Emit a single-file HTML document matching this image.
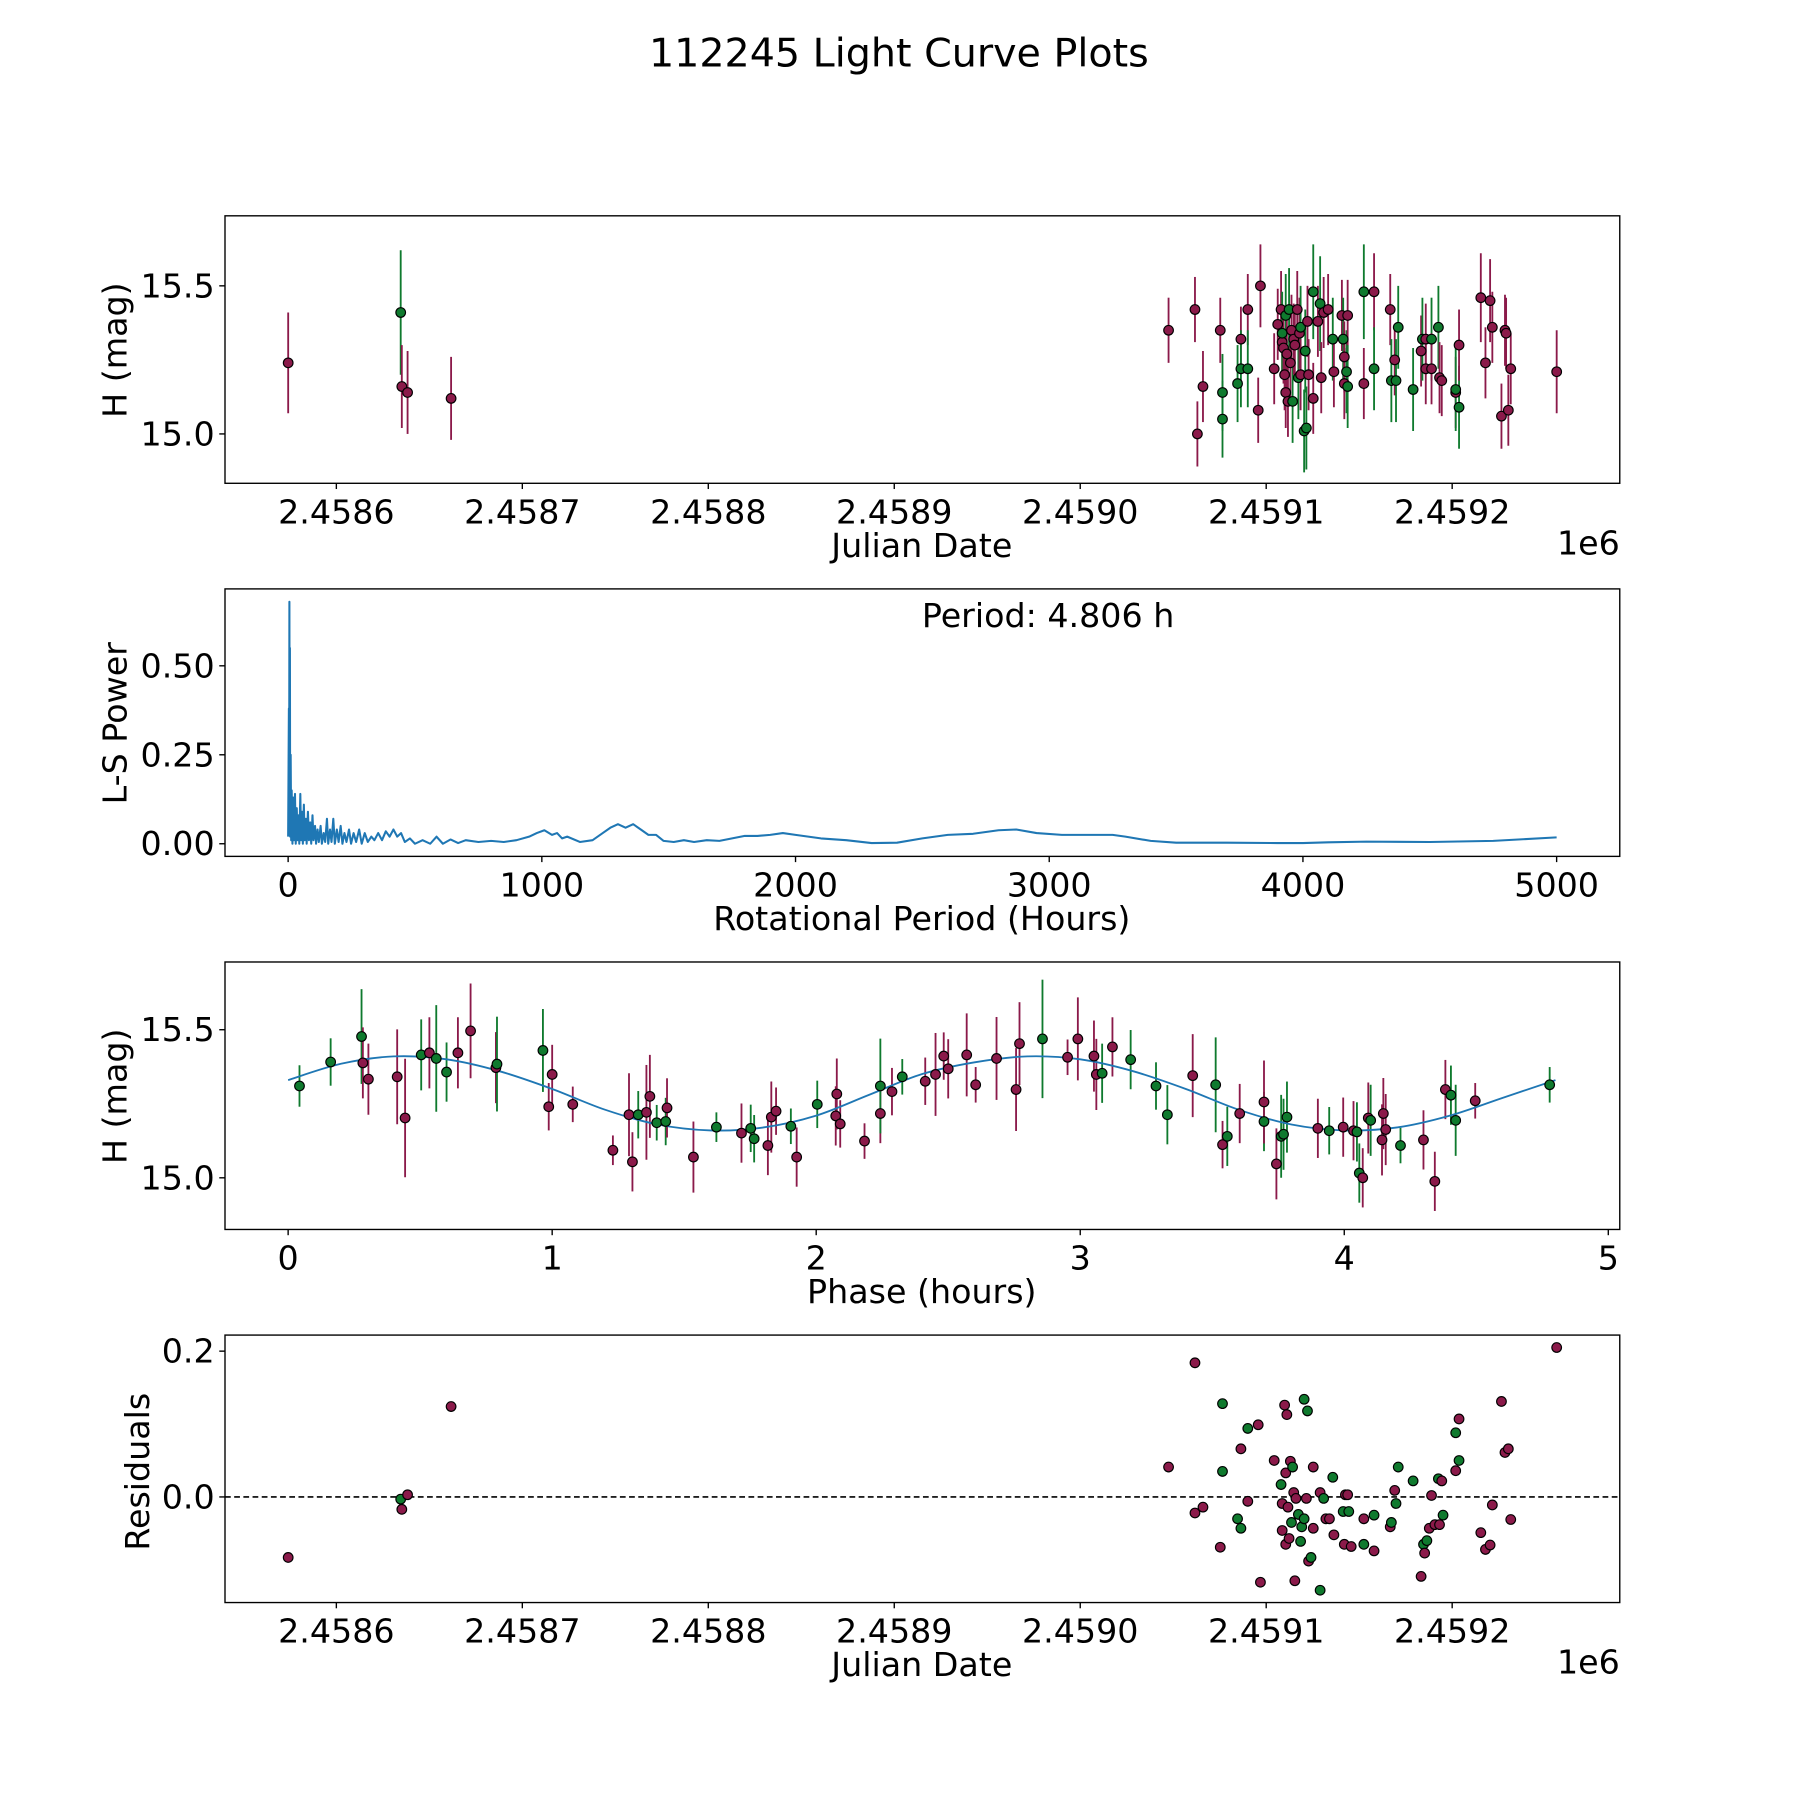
<!DOCTYPE html>
<html><head><meta charset="utf-8"><style>
html,body{margin:0;padding:0;background:#fff;}
svg{display:block;}
text{font-family:"DejaVu Sans","Liberation Sans",sans-serif;fill:#000;}
</style></head><body>
<svg id="fig" xmlns="http://www.w3.org/2000/svg" width="1800" height="1800" viewBox="0 0 1568 1568">
<rect width="1568" height="1568" fill="#fff"/>
<text x="783" y="58" font-size="34.5" text-anchor="middle">112245 Light Curve Plots</text>
<g id="p1"></g>
<g id="p2"></g>
<g id="p3"></g>
<g id="p4"></g>
</svg>
<script>
// ---- Light curve data (days after JD 2458600, H mag, color 0=maroon 1=green) ----
const lcDay=[-25.9,34.6,35.2,38.3,61.7,447.5,461.7,463,466,475.3,476.5,476.5,484.6,486.4,486.4,490.1,490.1,495.7,496.9,504.3,506.2,508,508.6,508.6,509.3,509.9,510.5,510.5,511.1,511.7,512.3,513,513.6,514.2,514.8,515.4,516.7,517.3,517.9,518.5,518.5,520.4,521,521.6,522.2,522.8,525.3,525.3,527.8,529,529.6,530.9,533.3,535.8,536.4,540.7,541.4,542,542,543.2,543.8,543.8,552.5,552.5,558,558,566.7,567.3,569.1,569.8,571,579,583.3,584,585.8,585.8,588.9,588.9,592.6,593.2,594.4,601.9,601.9,603.7,603.7,615.4,617.9,620.4,621.6,626.5,628.4,629,630.2,631.5,656.2];
const lcMag=[15.24,15.41,15.16,15.14,15.12,15.35,15.42,15.00,15.16,15.35,15.14,15.05,15.17,15.32,15.22,15.42,15.22,15.08,15.50,15.22,15.37,15.42,15.31,15.34,15.29,15.20,15.14,15.40,15.27,15.11,15.42,15.24,15.35,15.11,15.32,15.30,15.42,15.19,15.34,15.36,15.20,15.01,15.28,15.02,15.38,15.20,15.48,15.12,15.38,15.44,15.19,15.41,15.42,15.32,15.21,15.40,15.32,15.26,15.17,15.21,15.40,15.16,15.48,15.17,15.48,15.22,15.42,15.18,15.25,15.18,15.36,15.15,15.28,15.32,15.22,15.32,15.32,15.22,15.36,15.19,15.18,15.14,15.15,15.09,15.30,15.46,15.24,15.45,15.36,15.06,15.35,15.34,15.08,15.22,15.21];
const lcCol=[0,1,0,0,0,0,0,0,0,0,1,1,1,0,1,0,1,0,0,0,0,0,0,1,0,0,0,1,0,0,1,0,0,1,0,0,0,1,0,1,0,1,1,1,0,0,1,0,0,1,0,0,0,1,0,0,1,0,0,1,0,1,1,0,0,1,0,1,0,1,1,1,0,1,0,0,1,0,1,0,0,0,1,1,0,0,0,0,0,0,0,0,0,0,0];
const lcErr=[0.17,0.21,0.14,0.14,0.14,0.11,0.11,0.11,0.12,0.11,0.13,0.13,0.13,0.11,0.13,0.12,0.13,0.11,0.14,0.12,0.12,0.13,0.12,0.14,0.12,0.12,0.12,0.14,0.12,0.12,0.14,0.12,0.12,0.14,0.12,0.12,0.13,0.14,0.12,0.14,0.12,0.14,0.14,0.14,0.12,0.12,0.16,0.12,0.12,0.16,0.12,0.12,0.12,0.14,0.12,0.12,0.14,0.12,0.12,0.14,0.12,0.14,0.16,0.12,0.13,0.14,0.12,0.14,0.12,0.14,0.14,0.14,0.12,0.14,0.12,0.12,0.14,0.12,0.14,0.12,0.12,0.12,0.14,0.14,0.12,0.15,0.12,0.14,0.12,0.11,0.12,0.12,0.12,0.12,0.14];
const jdTicks=[0,100,200,300,400,500,600];
const jdTickLabels=["2.4586","2.4587","2.4588","2.4589","2.4590","2.4591","2.4592"];
const magTicks=[15.0,15.5];
const magTickLabels=["15.0","15.5"];

// ---- Periodogram ----
const lsPeriod=[0,3,4,5,6,7,8,10,12,14,17,20,23,27,30,34,37,41,44,48,51,55,58,62,65,70,73,78,82,87,91,96,100,106,110,116,121,128,133,140,146,153,158,165,171,178,184,192,199,207,214,222,230,240,248,258,268,280,290,302,314,328,340,355,370,385,400,415,430,445,460,480,500,530,560,585,610,640,670,700,750,800,850,900,950,980,1010,1040,1060,1080,1100,1150,1200,1240,1270,1300,1330,1360,1390,1420,1450,1480,1520,1560,1600,1650,1700,1750,1800,1850,1900,1950,2000,2050,2100,2200,2300,2400,2500,2600,2700,2800,2870,2950,3050,3150,3250,3300,3400,3500,3700,3900,4000,4100,4250,4500,4750,5000];
const lsPower=[0.02,0.38,0.1,0.68,0.05,0.55,0.02,0.25,0.01,0.15,0.0,0.13,0.01,0.14,0.0,0.1,0.01,0.08,0.0,0.14,0.01,0.09,0.0,0.11,0.01,0.07,0.0,0.09,0.01,0.06,0.0,0.08,0.01,0.05,0.0,0.04,0.005,0.05,0.0,0.03,0.005,0.07,0.0,0.04,0.005,0.07,0.0,0.04,0.005,0.05,0.0,0.03,0.005,0.04,0.0,0.03,0.005,0.04,0.0,0.03,0.005,0.02,0.01,0.03,0.01,0.035,0.02,0.04,0.02,0.03,0.005,0.015,0.0,0.01,0.0,0.02,0.0,0.012,0.002,0.01,0.005,0.008,0.005,0.01,0.02,0.03,0.038,0.025,0.03,0.015,0.02,0.005,0.01,0.03,0.045,0.055,0.045,0.055,0.04,0.025,0.025,0.008,0.005,0.01,0.005,0.01,0.008,0.015,0.022,0.022,0.025,0.03,0.025,0.02,0.015,0.01,0.002,0.003,0.015,0.025,0.028,0.038,0.04,0.03,0.025,0.025,0.025,0.02,0.008,0.003,0.003,0.002,0.002,0.004,0.006,0.005,0.008,0.018];
const perTicks=[0,1000,2000,3000,4000,5000];
const powTicks=[0,0.25,0.5];
const powTickLabels=["0.00","0.25","0.50"];

// ---- Phase curve ----
const phPhase=[0.043,0.161,0.278,0.283,0.304,0.413,0.443,0.504,0.535,0.561,0.6,0.643,0.691,0.787,0.791,0.965,0.987,1.0,1.078,1.23,1.291,1.304,1.326,1.357,1.37,1.396,1.43,1.435,1.535,1.622,1.717,1.752,1.765,1.817,1.83,1.848,1.904,1.926,2.004,2.074,2.078,2.091,2.183,2.243,2.243,2.287,2.326,2.413,2.452,2.483,2.5,2.57,2.604,2.683,2.757,2.77,2.857,2.952,2.991,3.052,3.061,3.083,3.122,3.191,3.287,3.33,3.426,3.513,3.539,3.557,3.604,3.696,3.696,3.743,3.761,3.77,3.783,3.9,3.943,3.996,4.035,4.048,4.057,4.07,4.091,4.1,4.143,4.148,4.157,4.213,4.3,4.343,4.383,4.404,4.422,4.496,4.778];
const phMag=[15.31,15.391,15.477,15.388,15.333,15.341,15.202,15.415,15.422,15.403,15.357,15.422,15.496,15.372,15.384,15.43,15.24,15.349,15.248,15.093,15.213,15.054,15.213,15.221,15.275,15.186,15.19,15.236,15.07,15.171,15.151,15.167,15.132,15.109,15.205,15.225,15.174,15.07,15.248,15.209,15.283,15.182,15.124,15.217,15.31,15.291,15.341,15.326,15.349,15.411,15.368,15.415,15.314,15.403,15.298,15.453,15.469,15.407,15.469,15.411,15.349,15.353,15.442,15.399,15.31,15.213,15.345,15.314,15.112,15.14,15.217,15.19,15.256,15.047,15.14,15.147,15.205,15.167,15.159,15.171,15.159,15.155,15.016,15.0,15.202,15.194,15.128,15.217,15.163,15.109,15.128,14.988,15.298,15.279,15.194,15.26,15.314];
const phCol=[1,1,1,0,0,0,0,1,0,1,1,0,0,0,1,1,0,0,0,0,0,0,1,0,0,1,1,0,0,1,0,1,1,0,0,0,1,0,1,0,0,0,0,0,1,0,1,0,0,0,0,0,0,0,0,0,1,0,0,0,0,1,0,1,1,1,0,1,0,1,0,1,0,0,1,1,1,0,1,0,0,1,1,0,0,1,0,0,0,1,0,0,0,1,1,0,1];
const phErr=[0.07,0.08,0.16,0.12,0.12,0.16,0.2,0.12,0.12,0.18,0.1,0.12,0.16,0.12,0.16,0.14,0.08,0.1,0.06,0.05,0.14,0.1,0.08,0.16,0.14,0.06,0.08,0.1,0.12,0.05,0.1,0.08,0.08,0.1,0.12,0.08,0.06,0.1,0.08,0.1,0.12,0.08,0.06,0.1,0.16,0.08,0.06,0.08,0.14,0.08,0.1,0.14,0.06,0.14,0.14,0.14,0.2,0.06,0.14,0.12,0.12,0.1,0.1,0.1,0.08,0.1,0.14,0.16,0.08,0.1,0.1,0.1,0.14,0.12,0.14,0.12,0.12,0.1,0.08,0.1,0.1,0.1,0.1,0.1,0.12,0.12,0.12,0.12,0.12,0.06,0.1,0.1,0.1,0.1,0.12,0.06,0.06];
const fitPhase=[0,0.2,0.4,0.6,0.8,1.0,1.2,1.4,1.6,1.8,2.0,2.2,2.4,2.6,2.8,3.0,3.2,3.4,3.6,3.8,4.0,4.2,4.4,4.6,4.8];
const fitMag=[15.33,15.385,15.41,15.40,15.36,15.30,15.23,15.18,15.16,15.17,15.21,15.28,15.35,15.39,15.41,15.40,15.36,15.30,15.23,15.18,15.16,15.17,15.21,15.27,15.33];
const phTicks=[0,1,2,3,4,5];

// ---- Residuals ----
const resDay=[-25.9,34.6,35.2,38.3,61.7,447.5,461.7,461.7,466,475.3,476.5,476.5,484.6,486.4,486.4,490.1,490.1,495.7,496.9,504.3,508,508.6,508.6,509.9,510.5,510.5,511.1,511.7,512.3,513,513.6,514.2,514.8,515.4,516,517.3,518.5,519.1,520.4,520.4,521.6,522.2,522.8,524.1,525.3,525.3,529,529,530.9,532.1,534,535.8,536.4,541.4,542,542.6,543.8,544.4,545.7,552.5,552.5,558,558,566.7,567.3,569.1,569.8,571,579,583.3,584.6,585.2,586.4,587.7,588.9,590.7,592.6,593.2,594.4,595.1,601.9,601.9,603.7,603.7,615.4,617.9,620.4,621.6,626.5,628.4,630.2,631.5,656.2];
const resVal=[-0.083,-0.003,-0.017,0.003,0.124,0.041,0.184,-0.022,-0.014,-0.069,0.035,0.128,-0.03,-0.043,0.066,0.094,-0.006,0.099,-0.117,0.05,0.017,-0.046,-0.009,0.126,0.033,-0.065,0.113,-0.014,-0.057,0.049,-0.035,0.041,0.006,-0.115,-0.002,-0.024,-0.061,-0.041,0.134,-0.03,-0.002,0.118,-0.088,-0.083,0.041,-0.043,-0.128,0.006,-0.002,-0.03,-0.03,0.027,-0.052,-0.02,-0.065,0.003,0.003,-0.02,-0.068,-0.065,-0.03,-0.025,-0.074,-0.041,-0.035,0.009,-0.009,0.041,0.022,-0.109,-0.065,-0.077,-0.06,-0.043,0.002,-0.038,0.025,-0.038,0.022,-0.025,0.036,0.088,0.107,0.05,-0.049,-0.072,-0.066,-0.011,0.131,0.061,0.066,-0.031,0.205];
const resCol=[0,1,0,0,0,0,0,0,0,0,1,1,1,1,0,1,0,0,0,0,1,0,0,0,0,0,0,0,0,0,1,1,0,0,0,1,1,1,1,1,0,1,0,1,0,0,1,0,1,0,0,1,0,1,0,0,0,1,0,1,0,1,0,0,1,0,1,1,1,0,1,0,1,0,0,0,1,0,0,1,0,1,0,1,0,0,0,0,0,0,0,0,0];
const resTicks=[0,0.2];
const resTickLabels=["0.0","0.2"];

const NS="http://www.w3.org/2000/svg";
const COLORS=["#8b1a4a","#0f7a2e"];
const TICKFS=29, LABFS=29;
function mk(parent,tag,attrs){const e=document.createElementNS(NS,tag);for(const k in attrs)e.setAttribute(k,attrs[k]);parent.appendChild(e);return e;}
function lin(d0,d1,r0,r1){return v=>r0+(v-d0)*(r1-r0)/(d1-d0);}

function frame(g,L,T,R,B){
  const f=mk(g,'rect',{x:L,y:T,width:R-L,height:B-T,fill:'none',stroke:'#000','stroke-width':1.2});
  
  
}
function xTicks(g,vals,labels,sx,B,name){
  vals.forEach((v,i)=>{
    const x=sx(v);
    const t=mk(g,'line',{x1:x,x2:x,y1:B,y2:B+5,stroke:'#000','stroke-width':1.2});
    
    
    const tx=mk(g,'text',{x:x,y:B+35,'font-size':TICKFS,'text-anchor':'middle'});
    tx.textContent=labels[i];
    
    
  });
}
function yTicks(g,vals,labels,sy,L){
  vals.forEach((v,i)=>{
    const y=sy(v);
    const t=mk(g,'line',{x1:L-5,x2:L,y1:y,y2:y,stroke:'#000','stroke-width':1.2});
    
    
    const tx=mk(g,'text',{x:L-9,y:y+10,'font-size':TICKFS,'text-anchor':'end'});
    tx.textContent=labels[i];
    
    
  });
}
function label(g,txt,x,y,rot,name){
  const t=mk(g,'text',{x:x,y:y,'font-size':LABFS,'text-anchor':'middle'});
  if(rot)t.setAttribute('transform',`rotate(-90 ${x} ${y})`);
  t.textContent=txt;
  
  
}
function dot(g,x,y,c,name){
  const d=mk(g,'circle',{cx:x,cy:y,r:4.2,fill:COLORS[c],stroke:'#000','stroke-width':1});
  
  
}
function err(g,x,y1,y2,c){
  const l=mk(g,'line',{x1:x,x2:x,y1:y1,y2:y2,stroke:COLORS[c],'stroke-width':1.6});
  
  
}
function smoothPath(pts){
  let d=`M${pts[0][0]},${pts[0][1]}`;
  for(let i=0;i<pts.length-1;i++){
    const p0=pts[Math.max(0,i-1)],p1=pts[i],p2=pts[i+1],p3=pts[Math.min(pts.length-1,i+2)];
    const c1=[p1[0]+(p2[0]-p0[0])/6,p1[1]+(p2[1]-p0[1])/6];
    const c2=[p2[0]-(p3[0]-p1[0])/6,p2[1]-(p3[1]-p1[1])/6];
    d+=` C${c1[0]},${c1[1]} ${c2[0]},${c2[1]} ${p2[0]},${p2[1]}`;
  }
  return d;
}

// Panel 1
(function(){
  const g=document.getElementById('p1');const L=196,T=188,R=1411,B=421;
  const sx=lin(0,100,293,455), sy=lin(15.0,15.5,378,249);
  lcDay.forEach((d,i)=>err(g,sx(d),sy(lcMag[i]-lcErr[i]),sy(lcMag[i]+lcErr[i]),lcCol[i]));
  lcDay.forEach((d,i)=>dot(g,sx(d),sy(lcMag[i]),lcCol[i],'light-curve-point'));
  frame(g,L,T,R,B);
  xTicks(g,jdTicks,jdTickLabels,sx,B,'x-tick-label');
  yTicks(g,magTicks,magTickLabels,sy,L);
  label(g,'Julian Date',803,485,false,'x-axis-title');
  label(g,'H (mag)',110,305,true,'y-axis-title');
  const o=mk(g,'text',{x:1411,y:483,'font-size':TICKFS,'text-anchor':'end'});o.textContent='1e6';
  
  
})();

// Panel 2
(function(){
  const g=document.getElementById('p2');const L=196,T=513,R=1411,B=746;
  const sx=lin(0,1000,251,472), sy=lin(0,0.25,735,657.5);
  const d=lsPeriod.map((p,i)=>(i?'L':'M')+sx(p).toFixed(2)+','+sy(lsPower[i]).toFixed(2)).join(' ');
  const p=mk(g,'path',{d:d,fill:'none',stroke:'#1f77b4','stroke-width':1.8,'stroke-linejoin':'round'});
  
  
  frame(g,L,T,R,B);
  xTicks(g,perTicks,perTicks.map(String),sx,B,'x-tick-label');
  yTicks(g,powTicks,powTickLabels,sy,L);
  label(g,'Rotational Period (Hours)',803,810,false,'x-axis-title');
  label(g,'L-S Power',110,630,true,'y-axis-title');
  const t=mk(g,'text',{x:913,y:546,'font-size':LABFS,'text-anchor':'middle'});t.textContent='Period: 4.806 h';
  
  
})();

// Panel 3
(function(){
  const g=document.getElementById('p3');const L=196,T=838,R=1411,B=1071;
  const sx=lin(0,1,251,481), sy=lin(15.0,15.5,1026,897);
  phPhase.forEach((p,i)=>err(g,sx(p),sy(phMag[i]-phErr[i]),sy(phMag[i]+phErr[i]),phCol[i]));
  const fp=mk(g,'path',{d:smoothPath(fitPhase.map((p,i)=>[sx(p),sy(fitMag[i])])),fill:'none',stroke:'#1f77b4','stroke-width':1.6});
  
  
  phPhase.forEach((p,i)=>dot(g,sx(p),sy(phMag[i]),phCol[i],'phase-point'));
  frame(g,L,T,R,B);
  xTicks(g,phTicks,phTicks.map(String),sx,B,'x-tick-label');
  yTicks(g,magTicks,magTickLabels,sy,L);
  label(g,'Phase (hours)',803,1135,false,'x-axis-title');
  label(g,'H (mag)',110,955,true,'y-axis-title');
})();

// Panel 4
(function(){
  const g=document.getElementById('p4');const L=196,T=1163,R=1411,B=1396;
  const sx=lin(0,100,293,455), sy=lin(0,0.2,1304,1177);
  const z=mk(g,'line',{x1:L,x2:R,y1:sy(0),y2:sy(0),stroke:'#000','stroke-width':1.4,'stroke-dasharray':'5,3'});
  
  
  resDay.forEach((d,i)=>dot(g,sx(d),sy(resVal[i]),resCol[i],'residual-point'));
  frame(g,L,T,R,B);
  xTicks(g,jdTicks,jdTickLabels,sx,B,'x-tick-label');
  yTicks(g,resTicks,resTickLabels,sy,L);
  label(g,'Julian Date',803,1460,false,'x-axis-title');
  label(g,'Residuals',130,1282,true,'y-axis-title');
  const o=mk(g,'text',{x:1411,y:1458,'font-size':TICKFS,'text-anchor':'end'});o.textContent='1e6';
  
  
})();
</script>
</body></html>
